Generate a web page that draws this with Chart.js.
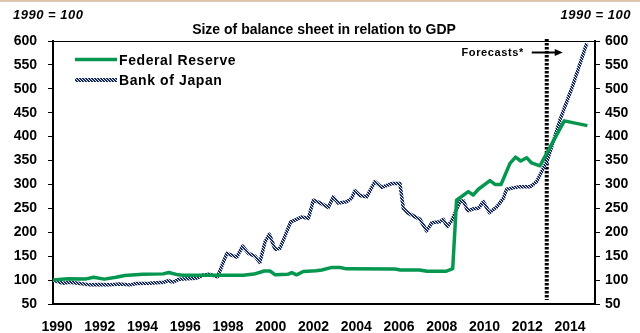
<!DOCTYPE html>
<html><head><meta charset="utf-8">
<script src="https://cdn.jsdelivr.net/npm/chart.js@4.4.0/dist/chart.umd.min.js"></script>
<style>html,body{margin:0;padding:0;background:#fff;}canvas{display:block;}</style>
</head><body>
<canvas id="c" width="640" height="333"></canvas>
<script>
// ---- data ----
const seriesLabels = ['Federal Reserve', 'Bank of Japan'];
const titleText = 'Size of balance sheet in relation to GDP';
const unitText = '1990 = 100';
const forecastText = 'Forecasts*';
const forecastYear = 2013.1;

const fedYears = [1990.0,1990.7,1991.55,1991.9,1992.4,1992.95,1993.35,1994.2,1995.15,1995.42,1995.85,1996.1,1998.9,1999.4,1999.88,2000.15,2000.4,2000.98,2001.17,2001.4,2001.71,2002.3,2002.57,2003.05,2003.43,2003.74,2006.0,2006.25,2007.15,2007.5,2008.4,2008.7,2008.88,2009.43,2009.66,2009.9,2010.44,2010.68,2010.96,2011.38,2011.64,2011.88,2012.16,2012.39,2012.78,2013.92,2015.0];
const fedValues = [100,103,102.5,106,102,106,109.5,112,113,116,111,110,110,112.5,119,119,111,112,115.5,111,118,119.5,121,126.5,126.5,123.5,123,121,121,118.5,118.5,124,267,285,278,290,308,300,300,344,357,349,356,345,339,433,423];

const bojYears = [1990.0,1990.45,1990.8,1991.25,1991.75,1992.2,1992.65,1993.1,1993.6,1993.9,1994.5,1995.2,1995.4,1995.6,1995.9,1996.7,1997.0,1997.3,1997.7,1998.13,1998.6,1998.87,1999.14,1999.45,1999.68,1999.92,2000.12,2000.39,2000.62,2000.93,2001.12,2001.4,2001.63,2001.95,2002.18,2002.52,2002.88,2003.11,2003.35,2003.74,2003.97,2004.13,2004.36,2004.68,2005.06,2005.38,2005.85,2006.23,2006.39,2006.62,2007.17,2007.48,2007.72,2008.1,2008.26,2008.45,2008.65,2009.04,2009.2,2009.4,2009.66,2009.9,2010.13,2010.42,2010.76,2011.07,2011.22,2011.77,2012.32,2012.63,2012.94,2013.12,2013.72,2014.34,2014.97];
const bojValues = [100,93.5,95.5,93,90,91,90,92,90,93,93.5,95.5,99,95.5,102,104,110,112.5,107,156,148,171,156,150,137,180,196,164,166.5,201,222,227,232,229,267,261,252,274,261,264,271,287,277,274,306,294,302,302,250,240,227,203,220,222,227,212,224,264,266,245,249,250,264,241,253,271,290,295,295,306,334,349,435,510,595];

const yTicks = [50,100,150,200,250,300,350,400,450,500,550,600];
const xTicks = [1990,1992,1994,1996,1998,2000,2002,2004,2006,2008,2010,2012,2014];

// ---- styles ----
const FONT = '"Liberation Sans", Arial, sans-serif';
const GREEN = '#05964f';
const NAVY = '#1b2c57';

const canvas = document.getElementById('c');
const ctx0 = canvas.getContext('2d');
function makePattern() {
  const p = document.createElement('canvas');
  p.width = 3; p.height = 3;
  const g = p.getContext('2d');
  g.fillStyle = NAVY; g.fillRect(0, 0, 3, 3);
  g.fillStyle = '#dde3ee';
  for (let i = 0; i < 3; i++) g.fillRect(i, i, 1, 1);
  return ctx0.createPattern(p, 'repeat');
}
const bojPattern = makePattern();

const decor = {
  id: 'decor',
  beforeDraw(chart) {
    const ctx = chart.ctx, ca = chart.chartArea;
    ctx.save();
    ctx.fillStyle = '#fff'; ctx.fillRect(0, 0, chart.width, chart.height);
    ctx.fillStyle = '#dcc7ab'; ctx.fillRect(0, 0, chart.width, 2);
    ctx.fillStyle = '#000';
    ctx.textBaseline = 'middle';
    ctx.font = 'italic bold 13px ' + FONT;
    ctx.letterSpacing = '0.5px';
    ctx.textAlign = 'left'; ctx.fillText(unitText, 13, 15);
    ctx.textAlign = 'right'; ctx.fillText(unitText, 631, 15);
    ctx.letterSpacing = '0px';
    ctx.font = 'bold 14px ' + FONT;
    ctx.textAlign = 'center';
    ctx.fillText(titleText, (ca.left + ca.right) / 2, 30);
    ctx.restore();
  },
  beforeDatasetsDraw(chart) {
    const ctx = chart.ctx, ca = chart.chartArea;
    const fx = chart.scales.x.getPixelForValue(forecastYear);
    ctx.save();
    ctx.strokeStyle = '#000'; ctx.lineWidth = 4;
    ctx.setLineDash([2.5, 1.5]);
    ctx.beginPath(); ctx.moveTo(fx, ca.top - 2); ctx.lineTo(fx, ca.bottom - 4); ctx.stroke();
    ctx.restore();
  },
  afterDraw(chart) {
    const ctx = chart.ctx, ca = chart.chartArea;
    const fx = chart.scales.x.getPixelForValue(forecastYear);
    ctx.save();
    // top border
    ctx.strokeStyle = '#000'; ctx.lineWidth = 1;
    ctx.beginPath(); ctx.moveTo(ca.left, ca.top + 0.5); ctx.lineTo(ca.right, ca.top + 0.5); ctx.stroke();
    // forecast arrow + text
    ctx.lineWidth = 2;
    ctx.beginPath(); ctx.moveTo(fx - 15, 52.5); ctx.lineTo(fx + 10, 52.5); ctx.stroke();
    ctx.fillStyle = '#000';
    ctx.beginPath(); ctx.moveTo(fx + 16, 52.5); ctx.lineTo(fx + 8, 49); ctx.lineTo(fx + 8, 56); ctx.closePath(); ctx.fill();
    ctx.font = 'bold 11px ' + FONT;
    ctx.letterSpacing = '0.6px';
    ctx.textAlign = 'right'; ctx.textBaseline = 'middle';
    ctx.fillText(forecastText, fx - 23, 52.5);
    // legend
    ctx.font = 'bold 14px ' + FONT;
    ctx.textAlign = 'left';
    ctx.strokeStyle = GREEN; ctx.lineWidth = 3.5;
    ctx.beginPath(); ctx.moveTo(75, 59.5); ctx.lineTo(117, 59.5); ctx.stroke();
    ctx.fillText(seriesLabels[0], 119, 61);
    ctx.strokeStyle = bojPattern; ctx.lineWidth = 4;
    ctx.beginPath(); ctx.moveTo(75, 80); ctx.lineTo(117, 80); ctx.stroke();
    ctx.fillText(seriesLabels[1], 119, 81);
    ctx.restore();
  }
};

const tickFont = { family: FONT, size: 14, weight: 'bold' };
function yAxis(pos, width, pad) {
  return {
    position: pos, min: 50, max: 600,
    afterBuildTicks(s) { s.ticks = yTicks.map(v => ({ value: v })); },
    afterFit(s) { s.width = width; },
    ticks: { font: tickFont, color: '#000', padding: pad, callback: v => String(v) },
    grid: { drawOnChartArea: false, drawTicks: true, tickLength: 5, color: '#000', tickColor: '#000', lineWidth: 1 },
    border: { display: true, color: '#000', width: 2 }
  };
}

new Chart(canvas, {
  type: 'line',
  data: {
    datasets: [
      { label: seriesLabels[0], data: fedYears.map((x, i) => ({ x, y: fedValues[i] })),
        borderColor: GREEN, borderWidth: 3.5, pointRadius: 0, tension: 0, yAxisID: 'y', borderJoinStyle: 'round' },
      { label: seriesLabels[1], data: bojYears.map((x, i) => ({ x, y: bojValues[i] })),
        borderColor: bojPattern, borderWidth: 3.5, pointRadius: 0, tension: 0, yAxisID: 'y', borderJoinStyle: 'round' }
    ]
  },
  options: {
    responsive: false, animation: false, devicePixelRatio: 1,
    layout: { padding: { top: 41, left: 0, right: 0, bottom: 0 } },
    plugins: { legend: { display: false }, tooltip: { enabled: false }, title: { display: false } },
    scales: {
      x: {
        type: 'linear', min: 1990, max: 2015.357,
        afterBuildTicks(s) { s.ticks = xTicks.map(v => ({ value: v })); },
        afterFit(s) { s.height = 29; },
        ticks: { font: tickFont, color: '#000', padding: 15, labelOffset: 4, maxRotation: 0, autoSkip: false, callback: v => String(v) },
        grid: { display: false, drawTicks: false },
        border: { display: true, color: '#000', width: 2 }
      },
      y: yAxis('left', 53, 11),
      y2: yAxis('right', 45, 5)
    }
  },
  plugins: [decor]
});
</script>
</body></html>
